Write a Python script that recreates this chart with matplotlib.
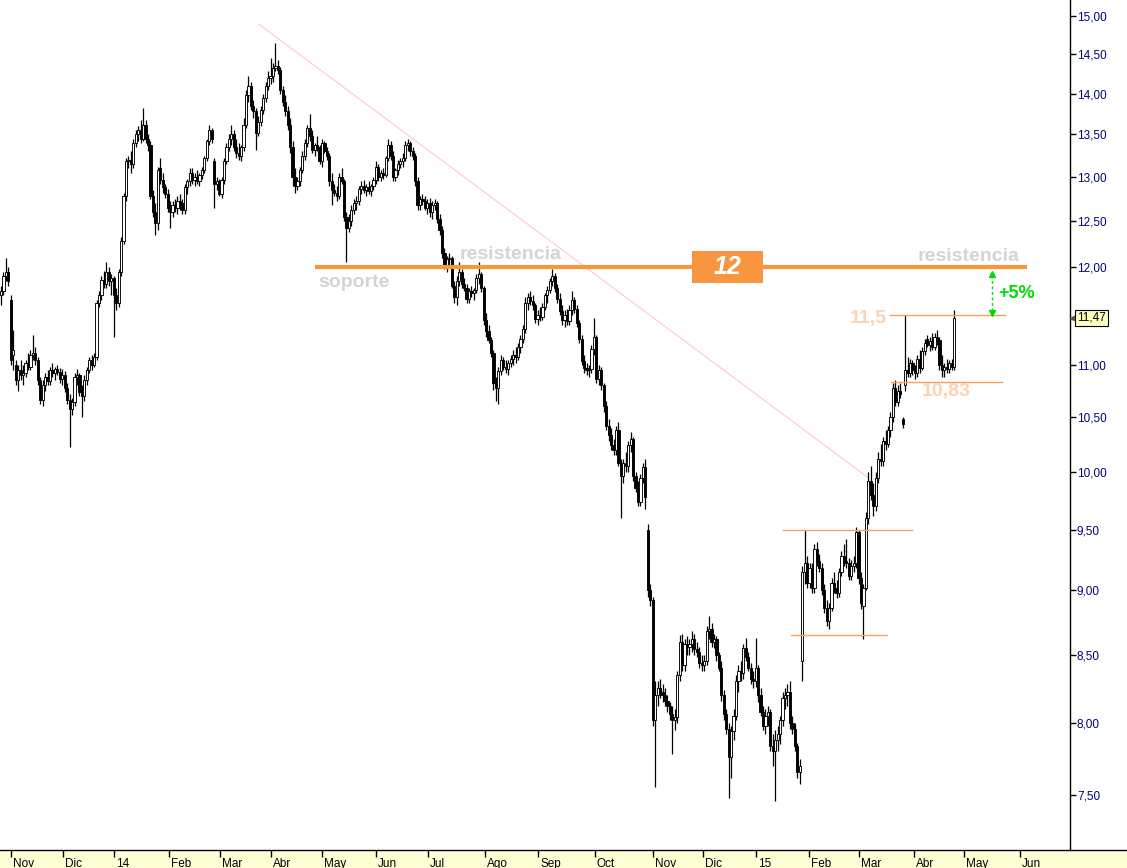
import matplotlib
matplotlib.use("Agg")
import matplotlib.pyplot as plt
import matplotlib.transforms as mtransforms
from matplotlib.patches import Rectangle
from matplotlib.lines import Line2D
from matplotlib.ticker import NullLocator
import numpy as np

plt.rcParams["font.family"] = ["Liberation Sans", "DejaVu Sans"]

# daily candles, late Oct 2013 -> late Apr 2015
open_ = [
    11.70, 11.75, 11.90, 11.95, 11.65, 11.10, 11.00, 10.85, 10.95, 10.90,
    10.92, 11.02, 10.98, 11.10, 11.12, 11.05, 10.85, 10.66, 10.80, 10.88,
    10.84, 10.95, 10.92, 10.96, 10.93, 10.86, 10.90, 10.78, 10.66, 10.58,
    10.64, 10.88, 10.90, 10.74, 10.70, 10.85, 10.95, 11.05, 11.00, 11.08,
    11.62, 11.70, 11.86, 11.82, 11.95, 11.85, 11.88, 11.70, 11.62, 11.95,
    12.28, 12.78, 13.18, 13.20, 13.15, 13.40, 13.50, 13.55, 13.45, 13.62,
    13.45, 13.38, 12.78, 12.60, 12.48, 13.10, 12.96, 12.88, 12.80, 12.65,
    12.60, 12.68, 12.65, 12.72, 12.70, 12.62, 12.88, 12.95, 13.05, 12.96,
    13.00, 12.95, 13.02, 13.08, 13.22, 13.42, 13.55, 13.18, 12.92, 12.95,
    12.80, 12.96, 13.18, 13.35, 13.45, 13.50, 13.35, 13.28, 13.25, 13.35,
    13.62, 13.98, 14.10, 13.85, 13.78, 13.52, 13.65, 13.80, 13.95, 14.10,
    14.20, 14.22, 14.32, 14.35, 14.30, 14.05, 13.90, 13.78, 13.62, 13.35,
    13.00, 12.90, 12.95, 13.08, 13.25, 13.40, 13.58, 13.48, 13.32, 13.38,
    13.35, 13.18, 13.40, 13.30, 13.25, 12.95, 12.85, 12.82, 12.78, 13.00,
    12.95, 12.55, 12.42, 12.50, 12.62, 12.70, 12.72, 12.86, 12.90, 12.85,
    12.88, 12.84, 12.90, 12.96, 13.12, 13.00, 13.05, 13.02, 13.22, 13.38,
    13.25, 13.00, 13.08, 13.15, 13.18, 13.22, 13.38, 13.40, 13.30, 13.25,
    12.95, 12.68, 12.75, 12.72, 12.65, 12.70, 12.60, 12.68, 12.70, 12.52,
    12.40, 12.15, 12.02, 12.08, 12.10, 11.80, 11.68, 11.85, 11.95, 11.82,
    11.78, 11.66, 11.75, 11.72, 11.76, 11.88, 11.92, 11.78, 11.45, 11.34,
    11.25, 11.12, 10.82, 10.78, 10.94, 11.05, 10.98, 10.96, 11.02, 11.06,
    11.10, 11.08, 11.18, 11.26, 11.36, 11.62, 11.68, 11.64, 11.60, 11.46,
    11.50, 11.48, 11.58, 11.70, 11.76, 11.85, 11.90, 11.78, 11.66, 11.54,
    11.45, 11.50, 11.44, 11.55, 11.65, 11.56, 11.42, 11.26, 11.04, 10.97,
    10.95, 10.96, 11.16, 11.28, 10.86, 10.95, 10.80, 10.60, 10.42, 10.33,
    10.24, 10.20, 10.38, 10.08, 9.96, 10.08, 10.05, 10.24, 10.30, 9.96,
    9.86, 9.74, 9.95, 10.04, 9.50, 9.00, 8.92, 8.02, 8.20, 8.25,
    8.22, 8.20, 8.16, 8.12, 8.06, 8.02, 8.04, 8.35, 8.60, 8.42,
    8.58, 8.56, 8.58, 8.62, 8.54, 8.52, 8.44, 8.42, 8.45, 8.68,
    8.70, 8.60, 8.62, 8.50, 8.40, 8.20, 8.06, 7.96, 7.76, 7.94,
    8.05, 8.30, 8.38, 8.36, 8.55, 8.48, 8.40, 8.32, 8.30, 8.40,
    8.20, 8.08, 7.98, 8.05, 8.08, 7.84, 7.80, 7.88, 7.92, 8.02,
    8.18, 8.20, 8.22, 8.00, 7.96, 7.84, 7.66, 8.45, 9.15, 9.22,
    9.06, 9.18, 9.02, 9.34, 9.24, 9.18, 9.00, 8.86, 8.76, 8.86,
    9.06, 9.02, 8.98, 9.15, 9.28, 9.24, 9.22, 9.12, 9.20, 9.22,
    9.48, 9.10, 8.88, 9.02, 9.60, 9.92, 9.80, 9.70, 9.95, 10.12,
    10.10, 10.28, 10.25, 10.38, 10.50, 10.78, 10.64, 10.75, 10.48, 10.80,
    10.95, 10.92, 11.02, 10.95, 10.92, 11.06, 10.97, 11.14, 11.26, 11.20,
    11.24, 11.18, 11.28, 11.25, 11.00, 10.95, 10.98, 10.96, 11.02, 10.98,
]
high = [
    11.80, 11.95, 12.10, 12.00, 11.70, 11.35, 11.05, 11.00, 11.05, 11.00,
    11.05, 11.12, 11.15, 11.30, 11.18, 11.08, 10.88, 10.85, 10.92, 10.95,
    10.98, 11.02, 10.98, 11.00, 10.97, 10.96, 10.94, 10.82, 10.72, 10.68,
    10.92, 10.96, 10.92, 10.80, 10.90, 10.98, 11.08, 11.10, 11.12, 11.65,
    11.75, 11.90, 11.96, 12.05, 12.00, 11.92, 11.90, 11.78, 11.98, 12.32,
    12.82, 13.22, 13.25, 13.30, 13.45, 13.55, 13.60, 13.68, 13.82, 13.68,
    13.50, 13.42, 12.85, 12.70, 13.12, 13.22, 13.05, 12.92, 12.86, 12.72,
    12.72, 12.75, 12.78, 12.80, 12.75, 12.92, 12.98, 13.10, 13.10, 13.05,
    13.08, 13.05, 13.12, 13.25, 13.45, 13.62, 13.58, 13.22, 13.00, 12.98,
    13.00, 13.22, 13.40, 13.50, 13.62, 13.55, 13.45, 13.40, 13.38, 13.70,
    14.05, 14.22, 14.15, 13.92, 13.82, 13.72, 13.85, 14.00, 14.15, 14.28,
    14.45, 14.38, 14.65, 14.42, 14.34, 14.10, 13.98, 13.85, 13.70, 13.42,
    13.10, 13.00, 13.12, 13.30, 13.45, 13.62, 13.75, 13.55, 13.40, 13.48,
    13.38, 13.45, 13.42, 13.35, 13.28, 13.05, 12.92, 12.90, 13.05, 13.10,
    12.98, 12.60, 12.58, 12.68, 12.75, 12.78, 12.90, 12.95, 12.96, 12.92,
    12.95, 12.92, 13.00, 13.18, 13.15, 13.08, 13.10, 13.25, 13.45, 13.42,
    13.30, 13.10, 13.20, 13.22, 13.28, 13.42, 13.45, 13.42, 13.35, 13.28,
    13.00, 12.78, 12.80, 12.78, 12.75, 12.76, 12.72, 12.75, 12.72, 12.58,
    12.45, 12.20, 12.12, 12.15, 12.12, 11.85, 11.90, 12.05, 11.98, 11.88,
    11.82, 11.78, 11.80, 11.78, 11.92, 12.05, 11.95, 11.80, 11.52, 11.40,
    11.28, 11.15, 10.88, 10.98, 11.10, 11.08, 11.05, 11.05, 11.10, 11.15,
    11.18, 11.22, 11.30, 11.40, 11.68, 11.72, 11.75, 11.70, 11.62, 11.55,
    11.58, 11.62, 11.72, 11.80, 11.88, 11.98, 11.94, 11.82, 11.72, 11.60,
    11.55, 11.56, 11.60, 11.75, 11.68, 11.60, 11.45, 11.30, 11.10, 11.02,
    11.00, 11.20, 11.47, 11.30, 11.00, 10.98, 10.82, 10.65, 10.48, 10.40,
    10.30, 10.42, 10.45, 10.12, 10.12, 10.18, 10.28, 10.36, 10.32, 10.00,
    9.92, 9.98, 10.08, 10.12, 9.55, 9.05, 8.95, 8.30, 8.30, 8.32,
    8.28, 8.25, 8.20, 8.15, 8.12, 8.10, 8.38, 8.65, 8.66, 8.62,
    8.64, 8.62, 8.68, 8.66, 8.60, 8.56, 8.50, 8.50, 8.72, 8.80,
    8.74, 8.66, 8.64, 8.52, 8.45, 8.24, 8.10, 8.00, 7.98, 8.10,
    8.35, 8.42, 8.45, 8.58, 8.63, 8.52, 8.44, 8.38, 8.63, 8.42,
    8.25, 8.12, 8.10, 8.12, 8.10, 7.92, 7.95, 7.98, 8.05, 8.22,
    8.25, 8.28, 8.30, 8.05, 8.00, 7.86, 7.75, 9.20, 9.50, 9.28,
    9.22, 9.22, 9.38, 9.40, 9.30, 9.22, 9.05, 8.92, 8.90, 9.10,
    9.15, 9.08, 9.18, 9.32, 9.38, 9.42, 9.26, 9.25, 9.28, 9.52,
    9.50, 9.15, 9.05, 9.65, 10.00, 10.05, 9.90, 10.00, 10.18, 10.25,
    10.32, 10.38, 10.42, 10.55, 10.82, 10.85, 10.80, 10.82, 10.50, 11.50,
    11.08, 11.06, 11.05, 11.00, 11.10, 11.15, 11.18, 11.26, 11.30, 11.28,
    11.32, 11.32, 11.35, 11.28, 11.10, 11.02, 11.06, 11.05, 11.06, 11.55,
]
low = [
    11.60, 11.70, 11.85, 11.80, 11.00, 10.95, 10.80, 10.75, 10.85, 10.80,
    10.88, 10.95, 10.95, 11.05, 11.00, 10.80, 10.62, 10.60, 10.75, 10.80,
    10.80, 10.88, 10.85, 10.90, 10.82, 10.80, 10.74, 10.62, 10.22, 10.52,
    10.60, 10.80, 10.70, 10.50, 10.65, 10.80, 10.92, 10.95, 10.98, 11.05,
    11.58, 11.65, 11.78, 11.78, 11.80, 11.70, 11.28, 11.55, 11.58, 11.90,
    12.25, 12.72, 13.10, 13.05, 13.10, 13.35, 13.42, 13.40, 13.42, 13.40,
    13.30, 12.75, 12.55, 12.35, 12.40, 12.92, 12.82, 12.76, 12.60, 12.42,
    12.55, 12.60, 12.58, 12.62, 12.58, 12.58, 12.80, 12.90, 12.92, 12.90,
    12.92, 12.90, 12.98, 13.05, 13.18, 13.38, 13.40, 12.65, 12.85, 12.78,
    12.76, 12.92, 13.15, 13.30, 13.38, 13.30, 13.22, 13.20, 13.18, 13.30,
    13.58, 13.90, 13.80, 13.70, 13.32, 13.48, 13.60, 13.75, 13.90, 14.05,
    14.12, 14.15, 14.28, 14.25, 14.00, 13.85, 13.72, 13.55, 13.28, 12.90,
    12.82, 12.85, 12.90, 13.05, 13.20, 13.35, 13.42, 13.28, 13.25, 13.30,
    13.15, 13.12, 13.28, 13.20, 12.90, 12.68, 12.78, 12.72, 12.75, 12.92,
    12.50, 12.05, 12.38, 12.45, 12.58, 12.62, 12.68, 12.80, 12.82, 12.78,
    12.80, 12.78, 12.85, 12.92, 12.95, 12.95, 12.98, 13.00, 13.18, 13.20,
    12.95, 12.95, 13.02, 13.10, 13.12, 13.18, 13.30, 13.25, 13.20, 12.90,
    12.62, 12.62, 12.68, 12.62, 12.58, 12.55, 12.52, 12.62, 12.48, 12.35,
    12.10, 11.98, 11.95, 12.02, 11.78, 11.62, 11.60, 11.80, 11.78, 11.75,
    11.62, 11.62, 11.68, 11.65, 11.72, 11.82, 11.74, 11.40, 11.28, 11.22,
    11.08, 10.76, 10.65, 10.62, 10.90, 10.95, 10.92, 10.90, 10.98, 11.00,
    11.02, 11.05, 11.12, 11.22, 11.32, 11.55, 11.60, 11.55, 11.42, 11.40,
    11.44, 11.45, 11.55, 11.62, 11.72, 11.80, 11.74, 11.62, 11.50, 11.40,
    11.38, 11.40, 11.40, 11.50, 11.52, 11.38, 11.22, 11.00, 10.92, 10.90,
    10.88, 10.92, 11.10, 10.82, 10.80, 10.76, 10.55, 10.38, 10.28, 10.20,
    10.15, 10.15, 10.05, 9.60, 9.90, 10.00, 10.00, 10.18, 9.92, 9.82,
    9.70, 9.70, 9.90, 9.68, 8.95, 8.88, 7.98, 7.56, 8.12, 8.18,
    8.15, 8.12, 8.08, 8.02, 7.78, 7.95, 8.00, 8.30, 8.38, 8.38,
    8.50, 8.50, 8.52, 8.50, 8.48, 8.40, 8.38, 8.38, 8.42, 8.62,
    8.56, 8.55, 8.45, 8.38, 8.16, 8.02, 7.92, 7.48, 7.62, 7.88,
    8.02, 8.22, 8.30, 8.32, 8.45, 8.38, 8.28, 8.25, 8.26, 8.15,
    8.05, 7.95, 7.92, 7.98, 7.80, 7.70, 7.46, 7.80, 7.85, 7.98,
    8.10, 8.12, 7.96, 7.92, 7.80, 7.62, 7.58, 8.30, 9.05, 9.02,
    9.02, 8.98, 8.98, 9.20, 9.15, 8.96, 8.82, 8.72, 8.70, 8.84,
    8.98, 8.94, 8.95, 9.12, 9.20, 9.18, 9.08, 9.08, 9.15, 9.18,
    9.05, 8.85, 8.62, 9.00, 9.55, 9.75, 9.62, 9.66, 9.90, 10.05,
    10.05, 10.20, 10.22, 10.32, 10.45, 10.60, 10.60, 10.68, 10.40, 10.75,
    10.88, 10.88, 10.90, 10.86, 10.88, 10.92, 10.95, 11.10, 11.18, 11.14,
    11.15, 11.15, 11.20, 10.95, 10.88, 10.88, 10.92, 10.92, 10.95, 10.95,
]
close = [
    11.75, 11.90, 11.95, 11.85, 11.05, 11.15, 10.85, 10.95, 10.90, 10.92,
    11.02, 10.98, 11.10, 11.12, 11.05, 10.85, 10.66, 10.80, 10.88, 10.84,
    10.95, 10.92, 10.96, 10.93, 10.86, 10.90, 10.78, 10.66, 10.58, 10.64,
    10.88, 10.90, 10.74, 10.70, 10.85, 10.95, 11.05, 11.00, 11.08, 11.62,
    11.70, 11.86, 11.82, 11.95, 11.85, 11.88, 11.70, 11.62, 11.95, 12.28,
    12.78, 13.18, 13.20, 13.15, 13.40, 13.50, 13.55, 13.45, 13.62, 13.45,
    13.38, 12.78, 12.60, 12.48, 13.08, 12.96, 12.88, 12.80, 12.65, 12.60,
    12.68, 12.65, 12.72, 12.70, 12.62, 12.88, 12.95, 13.05, 12.96, 13.00,
    12.95, 13.02, 13.08, 13.22, 13.42, 13.55, 13.45, 12.92, 12.95, 12.80,
    12.96, 13.18, 13.35, 13.45, 13.50, 13.35, 13.28, 13.25, 13.35, 13.62,
    13.98, 14.10, 13.85, 13.78, 13.52, 13.65, 13.80, 13.95, 14.10, 14.20,
    14.22, 14.32, 14.35, 14.30, 14.05, 13.90, 13.78, 13.62, 13.35, 13.00,
    12.90, 12.95, 13.08, 13.25, 13.40, 13.58, 13.48, 13.32, 13.38, 13.35,
    13.18, 13.40, 13.30, 13.25, 12.95, 12.85, 12.82, 12.78, 13.00, 12.95,
    12.55, 12.42, 12.50, 12.62, 12.70, 12.72, 12.86, 12.90, 12.85, 12.88,
    12.84, 12.90, 12.96, 13.12, 13.00, 13.05, 13.02, 13.22, 13.38, 13.25,
    13.00, 13.08, 13.15, 13.18, 13.22, 13.38, 13.40, 13.30, 13.25, 12.95,
    12.68, 12.75, 12.72, 12.65, 12.70, 12.60, 12.68, 12.70, 12.52, 12.40,
    12.15, 12.02, 12.08, 12.10, 11.80, 11.68, 11.85, 11.95, 11.82, 11.78,
    11.66, 11.75, 11.72, 11.76, 11.88, 11.92, 11.78, 11.45, 11.34, 11.25,
    11.12, 10.82, 10.78, 10.94, 11.05, 10.98, 10.96, 11.02, 11.06, 11.10,
    11.08, 11.18, 11.26, 11.36, 11.62, 11.68, 11.64, 11.60, 11.46, 11.50,
    11.48, 11.58, 11.70, 11.76, 11.85, 11.90, 11.78, 11.66, 11.54, 11.45,
    11.50, 11.44, 11.55, 11.65, 11.56, 11.42, 11.26, 11.04, 10.97, 10.95,
    10.96, 11.16, 11.28, 10.86, 10.95, 10.80, 10.60, 10.42, 10.33, 10.24,
    10.20, 10.38, 10.08, 9.96, 10.08, 10.05, 10.24, 10.30, 9.96, 9.86,
    9.74, 9.95, 10.04, 9.78, 9.00, 8.92, 8.02, 8.20, 8.25, 8.22,
    8.20, 8.16, 8.12, 8.06, 8.02, 8.04, 8.35, 8.60, 8.42, 8.58,
    8.56, 8.58, 8.62, 8.54, 8.52, 8.44, 8.42, 8.45, 8.68, 8.70,
    8.60, 8.62, 8.50, 8.40, 8.20, 8.06, 7.96, 7.76, 7.94, 8.05,
    8.30, 8.38, 8.36, 8.55, 8.48, 8.40, 8.32, 8.30, 8.40, 8.20,
    8.08, 7.98, 8.05, 8.08, 7.84, 7.80, 7.88, 7.92, 8.02, 8.18,
    8.20, 8.22, 8.00, 7.96, 7.84, 7.66, 7.70, 9.15, 9.22, 9.06,
    9.18, 9.02, 9.34, 9.24, 9.18, 9.00, 8.86, 8.76, 8.86, 9.06,
    9.02, 8.98, 9.15, 9.28, 9.24, 9.22, 9.12, 9.20, 9.22, 9.48,
    9.10, 8.90, 9.02, 9.60, 9.92, 9.80, 9.70, 9.95, 10.12, 10.10,
    10.28, 10.25, 10.38, 10.50, 10.78, 10.64, 10.75, 10.72, 10.44, 10.95,
    10.92, 11.02, 10.95, 10.92, 11.06, 10.97, 11.14, 11.22, 11.20, 11.24,
    11.18, 11.28, 11.25, 11.00, 10.95, 10.98, 10.96, 11.02, 10.98, 11.47,
]

# month start positions (in trading-day index) and labels
month_pos = [3.96, 25.1, 46.0, 68.4, 89.2, 110.2, 131.2, 152.9, 174.3, 197.6,
             219.2, 242.4, 266.1, 286.5, 308.2, 329.8, 350.2, 372.7, 393.1, 415.9]
month_labels = ["Nov", "Dic", "14", "Feb", "Mar", "Abr", "May", "Jun", "Jul", "Ago",
                "Sep", "Oct", "Nov", "Dic", "15", "Feb", "Mar", "Abr", "May", "Jun"]

price_ticks = [7.5, 8.0, 8.5, 9.0, 9.5, 10.0, 10.5, 11.0, 12.0, 12.5, 13.0, 13.5, 14.0, 14.5, 15.0]
last_price = 11.47

support = 12.0
range_hi, range_lo = 11.5, 10.83
base_hi, base_lo = 9.5, 8.65

W, H = 1127, 868
fig = plt.figure(figsize=(W / 100, H / 100), dpi=100)
fig.patch.set_facecolor("white")
ax = fig.add_axes([0, 18 / H, 1070 / W, 850 / H])
ax.set_yscale("log")
ax.set_ylim(7.145, 15.215)
ax.set_xlim(-0.41, 436.3)

o = np.array(open_)
h = np.array(high)
l = np.array(low)
c = np.array(close)
x = np.arange(len(c))
up = c >= o

ax.vlines(x, l, h, color="black", lw=0.9, zorder=2)
body_lo = np.minimum(o, c)
body_h = np.maximum(np.abs(c - o), 0.012)
ax.bar(x, body_h, bottom=body_lo, width=0.9,
       color=np.where(up, "white", "black"), edgecolor="black", linewidth=0.65,
       zorder=3)

# trend line
ax.plot([105.3, 353.9], [14.89, 9.95], color="#FFC8C8", lw=0.8, zorder=1)

# support / resistance at 12
orange = "#F7963F"
ax.plot([128.2, 418.8], [support, support], color=orange, lw=3.0,
        solid_capstyle="butt", zorder=5)
ax.add_patch(Rectangle((282.0, 11.83), 29.0, 12.17 - 11.83, facecolor=orange,
                       edgecolor="none", zorder=6))
ax.text(296.5, 12.0, "12", color="white", fontsize=18, fontweight="bold",
        fontstyle="italic", ha="center", va="center", zorder=7)

grey = "#D4D4D4"
ax.text(129.4, 11.83, "soporte", color=grey, fontsize=14, fontweight="bold",
        ha="left", va="center", zorder=6)
ax.text(187.3, 12.13, "resistencia", color=grey, fontsize=14, fontweight="bold",
        ha="left", va="center", zorder=6)
ax.text(374.3, 12.11, "resistencia", color=grey, fontsize=14, fontweight="bold",
        ha="left", va="center", zorder=6)

# consolidation ranges
thin = "#F5A25D"
ax.plot([362.9, 409.8], [range_hi, range_hi], color=thin, lw=1.0, zorder=5)
ax.plot([363.3, 408.6], [range_lo, range_lo], color=thin, lw=1.0, zorder=5)
ax.plot([319.2, 371.8], [base_hi, base_hi], color=thin, lw=1.0, zorder=5)
ax.plot([322.4, 361.6], [base_lo, base_lo], color=thin, lw=1.0, zorder=5)

peach = "#FBD3B3"
ax.text(361.6, 11.46, "11,5", color=peach, fontsize=14, fontweight="bold",
        ha="right", va="center", zorder=6)
ax.text(375.9, 10.74, "10,83", color=peach, fontsize=14, fontweight="bold",
        ha="left", va="center", zorder=6)

# +5% arrow
green = "#00DD00"
ax.plot([404.5, 404.5], [11.54, 11.91], color=green, lw=1.0, ls=(0, (2, 2)), zorder=6)
ax.plot([404.5], [11.92], marker="^", ms=5, color=green, zorder=6)
ax.plot([404.5], [11.52], marker="v", ms=5, color=green, zorder=6)
ax.text(406.9, 11.72, "+5%", color=green, fontsize=13, fontweight="bold",
        ha="left", va="center", zorder=6)

# axes styling
for s in ["left", "top", "bottom"]:
    ax.spines[s].set_visible(False)
ax.spines["right"].set_color("black")
ax.spines["right"].set_linewidth(1.0)

ax.yaxis.tick_right()
ax.yaxis.set_minor_locator(NullLocator())
ax.set_yticks(price_ticks)
ax.set_yticklabels([f"{v:.2f}".replace(".", ",") for v in price_ticks])
ax.tick_params(axis="y", which="major", direction="out", length=4, width=1,
               color="black", labelcolor="#000080", labelsize=8.5, pad=1)

ax.set_xticks(month_pos)
ax.set_xticklabels(month_labels)
ax.tick_params(axis="x", direction="out", length=5, width=1, color="black",
               labelsize=8.5, pad=0.5)
offset = mtransforms.ScaledTranslation(2 / 100, 0, fig.dpi_scale_trans)
for lab in ax.get_xticklabels():
    lab.set_ha("left")
    lab.set_transform(lab.get_transform() + offset)

# last price flag on the axis
ax.text(1.0 + 7 / 1070, last_price, f"{last_price:.2f}".replace(".", ","),
        transform=ax.get_yaxis_transform(),
        ha="left", va="center", fontsize=8.5, color="black", clip_on=False, zorder=8,
        bbox=dict(boxstyle="square,pad=0.15", facecolor="#FFFFC0", edgecolor="black", lw=0.8))
ax.plot([1.0 + 2 / 1070], [last_price], marker="<", ms=3, color="#555555",
        transform=ax.get_yaxis_transform(), clip_on=False, zorder=8)

# bottom date band
fig.add_artist(Rectangle((0, 0), 1, 18 / H, transform=fig.transFigure,
                         facecolor="#FFFFD5", edgecolor="none", zorder=0))
fig.add_artist(Line2D([0, 1], [18 / H, 18 / H], transform=fig.transFigure,
                      color="black", lw=1.0, zorder=1))

fig.savefig("out.png", dpi=100)
